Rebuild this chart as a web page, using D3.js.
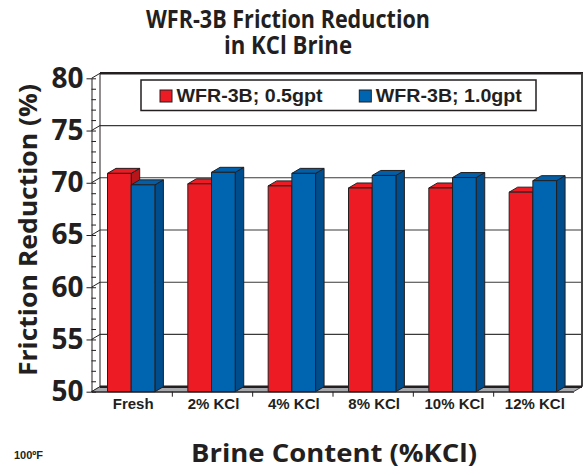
<!DOCTYPE html>
<html>
<head>
<meta charset="utf-8">
<script src="https://cdn.jsdelivr.net/npm/d3@7"></script>
<style>
  body { margin: 0; background: #fff; }
  svg { display: block; }
</style>
</head>
<body>
<div id="chart"></div>
<script>
// Chart data
const categories = ['Fresh', '2% KCl', '4% KCl', '8% KCl', '10% KCl', '12% KCl'];
const seriesNames = ['WFR-3B; 0.5gpt', 'WFR-3B; 1.0gpt'];
const lowDose = [70.9, 69.9, 69.7, 69.5, 69.5, 69.1];
const highDose = [69.8, 71.0, 70.9, 70.7, 70.5, 70.2];
const yTicks = [50, 55, 60, 65, 70, 75, 80];

const colors = [
    {front: '#ed1c24', top: '#ed1c24', side: '#b8151b'},
    {front: '#0065b1', top: '#005fa8', side: '#004d8e'}
];
const ink = '#231f20';

// 3D depth offset
const dx = 8.5, dy = -5;

const svg = d3.select('#chart')
    .append('svg')
    .attr('width', 584)
    .attr('height', 470);

const x = d3.scaleBand().domain(categories).range([91.5, 573.5]);
const sub = d3.scaleBand().domain([0, 1]).range([0, 47.4]);
const y = d3.scaleLinear().domain([50, 80]).range([391.7, 78.3]);

const x0 = x.range()[0], x1 = x.range()[1];
const yTop = y(80), yBot = y(50);

// Back wall
svg.append('rect')
    .attr('x', x0 + dx).attr('y', yTop + dy)
    .attr('width', x1 - x0).attr('height', yBot - yTop)
    .attr('fill', '#fff');

svg.selectAll('.grid')
    .data(yTicks.filter(d => d > 50 && d < 80))
    .enter()
    .append('line')
    .attr('x1', x0 + dx).attr('x2', x1 + dx)
    .attr('y1', d => y(d) + dy).attr('y2', d => y(d) + dy)
    .attr('stroke', '#3a3a3a')
    .attr('stroke-width', 1.2);

// Left side wall: back edge and diagonals at major ticks
svg.append('line')
    .attr('x1', x0 + dx).attr('x2', x0 + dx)
    .attr('y1', yTop + dy).attr('y2', yBot + dy)
    .attr('stroke', ink).attr('stroke-width', 1);

svg.selectAll('.diag')
    .data(yTicks)
    .enter()
    .append('line')
    .attr('x1', x0).attr('x2', x0 + dx)
    .attr('y1', d => y(d)).attr('y2', d => y(d) + dy)
    .attr('stroke', ink).attr('stroke-width', 1);

// Top and right edges of the wall
svg.append('line')
    .attr('x1', x0 + dx).attr('x2', x1 + dx + 1)
    .attr('y1', yTop + dy).attr('y2', yTop + dy)
    .attr('stroke', ink).attr('stroke-width', 2.4);

svg.append('line')
    .attr('x1', x1 + dx).attr('x2', x1 + dx)
    .attr('y1', yTop + dy).attr('y2', yBot + dy)
    .attr('stroke', '#444').attr('stroke-width', 2);

// Floor
svg.append('polygon')
    .attr('points', [[x0, yBot], [x1, yBot], [x1 + dx, yBot + dy], [x0 + dx, yBot + dy]].join(' '))
    .attr('fill', '#a7a9ac')
    .attr('stroke', ink)
    .attr('stroke-width', 0.8);

svg.append('line')
    .attr('x1', x0 + dx).attr('x2', x1 + dx)
    .attr('y1', yBot + dy).attr('y2', yBot + dy)
    .attr('stroke', ink).attr('stroke-width', 2.4);

// Bars
const values = [lowDose, highDose];
const bars = svg.append('g');

categories.forEach((cat, i) => {
    [0, 1].forEach(s => {
        const v = values[s][i];
        const bx = x(cat) + 16 + sub(s);
        const w = sub.bandwidth();
        const yt = y(v);
        const g = bars.append('g')
            .attr('stroke', ink)
            .attr('stroke-width', 1)
            .attr('stroke-linejoin', 'round');

        g.append('polygon')
            .attr('points', [[bx + w, yt], [bx + w + dx, yt + dy], [bx + w + dx, yBot + dy], [bx + w, yBot]].join(' '))
            .attr('fill', colors[s].side);

        g.append('polygon')
            .attr('points', [[bx, yt], [bx + w, yt], [bx + w + dx, yt + dy], [bx + dx, yt + dy]].join(' '))
            .attr('fill', colors[s].top);

        g.append('rect')
            .attr('x', bx).attr('y', yt)
            .attr('width', w).attr('height', yBot - yt)
            .attr('fill', colors[s].front);
    });
});

// Y axis with major labels
const yAxis = svg.append('g')
    .attr('transform', `translate(${x0},0)`)
    .call(d3.axisLeft(y).tickValues(yTicks).tickSize(5).tickPadding(3).tickSizeOuter(0));

yAxis.select('.domain').attr('stroke', ink);
yAxis.selectAll('.tick line').attr('stroke', ink);
yAxis.selectAll('text')
    .attr('fill', ink)
    .style('font-family', '"Open Sans", sans-serif')
    .style('font-weight', 'bold')
    .style('font-size', '28px');

// Minor ticks pointing into the side wall
const yMinor = svg.append('g')
    .attr('transform', `translate(${x0},0)`)
    .call(d3.axisLeft(y).tickValues(d3.range(50, 81)).tickSize(-4.5).tickFormat('').tickSizeOuter(0));
yMinor.select('.domain').remove();
yMinor.selectAll('.tick line').attr('stroke', ink);

// X axis: front edge with boundary ticks
const xEdge = d3.scaleLinear().domain([0, categories.length]).range([x0, x1]);
const xAxis = svg.append('g')
    .attr('transform', `translate(0,${yBot})`)
    .call(d3.axisBottom(xEdge).tickValues(d3.range(1, categories.length)).tickSize(5).tickFormat('').tickSizeOuter(0));
xAxis.select('.domain').attr('stroke', ink);
xAxis.selectAll('.tick line').attr('stroke', ink);

svg.selectAll('.xlabel')
    .data(categories)
    .enter()
    .append('text')
    .attr('x', d => x(d) + x.bandwidth() / 2 + 1.5)
    .attr('y', 409)
    .attr('text-anchor', 'middle')
    .attr('fill', ink)
    .style('font-family', '"Liberation Sans", Arial, sans-serif')
    .style('font-weight', 'bold')
    .style('font-size', '15px')
    .text(d => d);

// Legend
const legend = svg.append('g');
legend.append('rect')
    .attr('x', 141).attr('y', 80)
    .attr('width', 395).attr('height', 30.5)
    .attr('fill', '#fff')
    .attr('stroke', ink)
    .attr('stroke-width', 1.5);

const legendX = [160, 359.3];
seriesNames.forEach((name, s) => {
    legend.append('rect')
        .attr('x', legendX[s]).attr('y', 90)
        .attr('width', 12).attr('height', 12)
        .attr('fill', colors[s].front)
        .attr('stroke', ink)
        .attr('stroke-width', 1);
    legend.append('text')
        .attr('x', legendX[s] + 16.5)
        .attr('y', 101.5)
        .attr('textLength', 146).attr('lengthAdjust', 'spacingAndGlyphs')
        .attr('fill', ink)
        .style('font-family', '"Liberation Sans", Arial, sans-serif')
        .style('font-weight', 'bold')
        .style('font-size', '17.5px')
        .text(name);
});

// Titles
const titleFont = '"Open Sans", sans-serif';
svg.append('text')
    .attr('x', 288).attr('y', 28)
    .attr('text-anchor', 'middle')
    .attr('textLength', 284).attr('lengthAdjust', 'spacingAndGlyphs')
    .attr('fill', ink)
    .style('font-family', titleFont).style('font-weight', 'bold').style('font-size', '25px')
    .text('WFR-3B Friction Reduction');

svg.append('text')
    .attr('x', 288).attr('y', 54)
    .attr('text-anchor', 'middle')
    .attr('textLength', 128).attr('lengthAdjust', 'spacingAndGlyphs')
    .attr('fill', ink)
    .style('font-family', titleFont).style('font-weight', 'bold').style('font-size', '25px')
    .text('in KCl Brine');

svg.append('text')
    .attr('transform', 'translate(37,230) rotate(-90)')
    .attr('text-anchor', 'middle')
    .attr('textLength', 292).attr('lengthAdjust', 'spacingAndGlyphs')
    .attr('fill', ink)
    .style('font-family', titleFont).style('font-weight', 'bold').style('font-size', '25px')
    .text('Friction Reduction (%)');

svg.append('text')
    .attr('x', 334).attr('y', 461.5)
    .attr('text-anchor', 'middle')
    .attr('textLength', 286).attr('lengthAdjust', 'spacingAndGlyphs')
    .attr('fill', ink)
    .style('font-family', titleFont).style('font-weight', 'bold').style('font-size', '25px')
    .text('Brine Content (%KCl)');

svg.append('text')
    .attr('x', 14).attr('y', 458.5)
    .attr('fill', ink)
    .style('font-family', '"Liberation Sans", Arial, sans-serif')
    .style('font-weight', 'bold')
    .style('font-size', '11px')
    .text('100ºF');
</script>
</body>
</html>
